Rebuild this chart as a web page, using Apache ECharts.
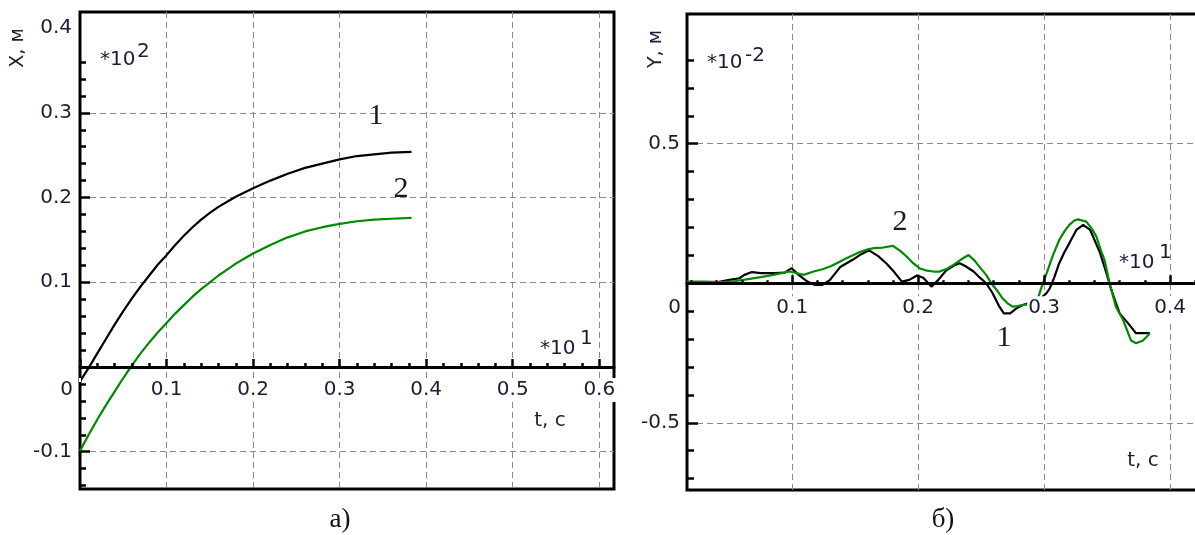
<!DOCTYPE html>
<html>
<head>
<meta charset="utf-8">
<script src="https://cdn.jsdelivr.net/npm/echarts@6.0.0/dist/echarts.min.js"></script>
<style>
  html, body { margin: 0; padding: 0; background: #fff; }
  #chart { width: 1195px; height: 535px; }
</style>
</head>
<body>
<div id="chart"></div>
<script>
// ---- а) X(t): time in units of 10 s, displacement in units of 100 m ----
const tX = [0, 0.01, 0.02, 0.03, 0.04, 0.05, 0.06, 0.07, 0.08, 0.09, 0.10, 0.11, 0.12, 0.13, 0.14,
            0.15, 0.16, 0.17, 0.18, 0.19, 0.20, 0.22, 0.24, 0.26, 0.28, 0.30, 0.32, 0.34, 0.36, 0.383];
const xCurve1 = [-0.017, -0.001, 0.016, 0.033, 0.050, 0.066, 0.081, 0.095, 0.108, 0.121, 0.132, 0.144,
                 0.155, 0.165, 0.174, 0.182, 0.189, 0.195, 0.201, 0.206, 0.211, 0.220, 0.228, 0.235,
                 0.240, 0.245, 0.249, 0.251, 0.253, 0.254];
const xCurve2 = [-0.099, -0.080, -0.062, -0.045, -0.029, -0.013, 0.002, 0.016, 0.029, 0.041, 0.052,
                 0.063, 0.073, 0.083, 0.092, 0.100, 0.108, 0.115, 0.122, 0.128, 0.134, 0.144, 0.153,
                 0.160, 0.165, 0.169, 0.172, 0.174, 0.175, 0.176];

// ---- б) Y(t): time in units of 10 s, displacement in units of 0.01 m ----
const tY1 = [0.0164, 0.03, 0.042, 0.05, 0.058, 0.062, 0.068, 0.075, 0.085, 0.094, 0.0995, 0.105, 0.112,
             0.118, 0.124, 0.130, 0.138, 0.148, 0.155, 0.161, 0.168, 0.175, 0.181, 0.187, 0.193, 0.199,
             0.204, 0.2105, 0.216, 0.222, 0.229, 0.233, 0.238, 0.244, 0.249, 0.254, 0.259, 0.264, 0.268,
             0.273, 0.278, 0.283, 0.289, 0.296, 0.302, 0.3045, 0.308, 0.312, 0.316, 0.320, 0.3256, 0.331,
             0.3366, 0.3405, 0.3445, 0.3495, 0.3534, 0.357, 0.360, 0.3666, 0.373, 0.378, 0.384];
const yCurve1 = [0.0, 0.0, 0.005, 0.012, 0.018, 0.03, 0.04, 0.036, 0.036, 0.038, 0.054, 0.03, 0.006,
                 -0.006, -0.006, 0.012, 0.058, 0.084, 0.105, 0.118, 0.098, 0.07, 0.04, 0.006, 0.012, 0.028,
                 0.02, -0.012, 0.012, 0.045, 0.065, 0.072, 0.06, 0.042, 0.02, 0.0, -0.035, -0.08, -0.108,
                 -0.108, -0.09, -0.078, -0.07, -0.06, -0.035, -0.018, 0.02, 0.072, 0.11, 0.143, 0.191, 0.209,
                 0.191, 0.15, 0.108, 0.036, -0.024, -0.07, -0.108, -0.143, -0.179, -0.179, -0.179];
const tY2 = [0.0164, 0.03, 0.045, 0.055, 0.065, 0.075, 0.085, 0.095, 0.098, 0.104, 0.109, 0.117, 0.124,
             0.130, 0.137, 0.143, 0.149, 0.154, 0.160, 0.165, 0.172, 0.180, 0.186, 0.191, 0.196, 0.201,
             0.207, 0.212, 0.217, 0.223, 0.228, 0.234, 0.240, 0.245, 0.249, 0.254, 0.258, 0.263, 0.267,
             0.271, 0.275, 0.279, 0.283, 0.289, 0.294, 0.2975, 0.302, 0.307, 0.312, 0.316, 0.320, 0.324,
             0.327, 0.3335, 0.338, 0.3415, 0.345, 0.348, 0.352, 0.357, 0.3626, 0.366, 0.369, 0.373,
             0.3785, 0.384];
const yCurve2 = [0.006, 0.006, 0.004, 0.008, 0.015, 0.022, 0.03, 0.04, 0.042, 0.036, 0.03, 0.042, 0.05,
                 0.06, 0.075, 0.09, 0.102, 0.113, 0.122, 0.126, 0.128, 0.134, 0.115, 0.095, 0.072, 0.054,
                 0.045, 0.042, 0.042, 0.052, 0.066, 0.085, 0.101, 0.08, 0.057, 0.03, 0.0, -0.028, -0.054,
                 -0.072, -0.084, -0.082, -0.078, -0.075, -0.07, -0.02, 0.036, 0.1, 0.155, 0.185, 0.209,
                 0.225, 0.229, 0.221, 0.195, 0.167, 0.12, 0.083, 0.0, -0.084, -0.13, -0.17, -0.205, -0.215,
                 -0.205, -0.18];

// ---- tick labels ----
const xLabelsA = [0.1, 0.2, 0.3, 0.4, 0.5, 0.6];
const yLabelsA = [-0.1, 0.1, 0.2, 0.3, 0.4];
const xLabelsB = [0.1, 0.2, 0.3, 0.4];
const yLabelsB = [-0.5, 0.5];
const originLabel = '0';

// ---- styles ----
const FONT = 'DejaVu Sans';
const SERIF = 'Liberation Serif';
const INK = '#1c1c36';
const DASH = { color: '#8a8a8a', width: 1, type: [6, 4] };
const TICK = { color: '#000', width: 2.5 };
const OFF = { show: false };

// Panel frames (pixels) and the value ranges they span
const panelA = {
  box: { l: 80, t: 12, r: 614, b: 489 }, xr: [0, 0.617], yr: [-0.144, 0.419],
  xMajor: [0, 0.6], xMinor: [0, 0.6], xMinorStep: 0.02, xMajorLen: 8, xMinorLen: 4, xLabels: xLabelsA, xMargin: 11,
  yMajor: [-0.2, 0.3], yStep: 0.1, yMinor: [-0.14, 0.36], yMinorStep: 0.02, yMajorLen: 10, yMinorLen: 6,
  yLab: [-0.1, 0.4], yLabels: yLabelsA, yMargin: 8
};
const panelB = {
  box: { l: 687, t: 14, r: 1200, b: 490 }, xr: [0.0164, 0.4238], yr: [-0.741, 0.965],
  xMajor: [0.1, 0.4], xMinor: [0.02, 0.42], xMinorStep: 0.02, xMajorLen: 8, xMinorLen: 3, xLabels: xLabelsB, xMargin: 13,
  yMajor: [-1.0, 0.5], yStep: 0.5, yMinor: [-0.7, 0.8], yMinorStep: 0.1, yMajorLen: 11, yMinorLen: 7,
  yLab: [-0.5, 0.5], yLabels: yLabelsB, yMargin: 7
};

const option = {
  animation: false,
  backgroundColor: '#fff',
  textStyle: { fontFamily: FONT },
  grid: [], xAxis: [], yAxis: [], series: [],
  graphic: { elements: [] }
};

function rectOf(p, x0, x1, y0, y1) {
  const sx = (p.box.r - p.box.l) / (p.xr[1] - p.xr[0]);
  const sy = (p.box.b - p.box.t) / (p.yr[1] - p.yr[0]);
  const left = p.box.l + (x0 - p.xr[0]) * sx;
  const right = p.box.l + (x1 - p.xr[0]) * sx;
  const top = p.box.b - (y1 - p.yr[0]) * sy;
  const bottom = p.box.b - (y0 - p.yr[0]) * sy;
  return { left: left, top: top, width: right - left, height: bottom - top };
}
function addGrid(rect, extra) {
  option.grid.push(Object.assign({
    left: rect.left, top: rect.top, width: rect.width, height: rect.height,
    containLabel: false, outerBoundsMode: 'none', show: false
  }, extra || {}));
  return option.grid.length - 1;
}
function axisBase() {
  return {
    type: 'value', axisLine: { show: false, onZero: false }, axisTick: OFF, minorTick: OFF,
    axisLabel: OFF, splitLine: OFF, minorSplitLine: OFF, splitArea: OFF
  };
}
function pushX(cfg) { option.xAxis.push(Object.assign(axisBase(), { position: 'bottom' }, cfg)); return option.xAxis.length - 1; }
function pushY(cfg) { option.yAxis.push(Object.assign(axisBase(), { position: 'left' }, cfg)); return option.yAxis.length - 1; }
const labelFmt = list => v => {
  const r = Math.round(v * 1000) / 1000;
  return list.indexOf(r) >= 0 ? String(r) : '';
};
const labelStyle = { show: true, fontFamily: FONT, fontSize: 20, color: INK };

function buildPanel(p, curves) {
  // frame and the curves
  const gm = addGrid(rectOf(p, p.xr[0], p.xr[1], p.yr[0], p.yr[1]),
    { show: true, borderColor: '#000', borderWidth: 3, backgroundColor: 'transparent' });
  const xm = pushX({ gridIndex: gm, min: p.xr[0], max: p.xr[1] });
  const ym = pushY({ gridIndex: gm, min: p.yr[0], max: p.yr[1] });
  curves.forEach(c => {
    option.series.push({
      type: 'line', xAxisIndex: xm, yAxisIndex: ym, showSymbol: false, symbol: 'none',
      data: c.t.map((t, i) => [t, c.v[i]]),
      lineStyle: { color: c.color, width: 2.2 }, z: 2
    });
  });

  // the time axis runs along the zero line: its grids end at value 0
  const gz = addGrid(rectOf(p, p.xr[0], p.xr[1], 0, p.yr[1]));
  pushY({ gridIndex: gz, min: 0, max: p.yr[1] });
  pushX({ gridIndex: gz, min: p.xr[0], max: p.xr[1], z: 3,
    axisLine: { show: true, onZero: false, lineStyle: { color: '#000', width: 3 } } });

  // vertical dashed grid lines (beneath the curves)
  const gs = addGrid(rectOf(p, p.xMajor[0], p.xMajor[1], p.yr[0], p.yr[1]));
  pushY({ gridIndex: gs, min: p.yr[0], max: p.yr[1] });
  pushX({ gridIndex: gs, min: p.xMajor[0], max: p.xMajor[1], interval: 0.1, z: 0,
    splitLine: { show: true, showMinLine: p.xMajor[0] > p.xr[0], showMaxLine: true, lineStyle: DASH } });

  // major time ticks and their labels
  const gx = addGrid(rectOf(p, p.xMajor[0], p.xMajor[1], 0, p.yr[1]));
  pushY({ gridIndex: gx, min: 0, max: p.yr[1] });
  pushX({ gridIndex: gx, min: p.xMajor[0], max: p.xMajor[1], interval: 0.1, z: 3,
    axisTick: { show: true, inside: true, length: p.xMajorLen, lineStyle: TICK },
    axisLabel: Object.assign({}, labelStyle, { margin: p.xMargin, formatter: labelFmt(p.xLabels),
      backgroundColor: '#fff', padding: [2, 1] }) });

  // minor time ticks
  const gxm = addGrid(rectOf(p, p.xMinor[0], p.xMinor[1], 0, p.yr[1]));
  pushY({ gridIndex: gxm, min: 0, max: p.yr[1] });
  pushX({ gridIndex: gxm, min: p.xMinor[0], max: p.xMinor[1], interval: p.xMinorStep, z: 3,
    axisTick: { show: true, inside: true, length: p.xMinorLen, lineStyle: TICK } });

  // horizontal grid lines and major value ticks
  const gy = addGrid(rectOf(p, p.xr[0], p.xr[1], p.yMajor[0], p.yMajor[1]));
  pushX({ gridIndex: gy, min: p.xr[0], max: p.xr[1] });
  pushY({ gridIndex: gy, min: p.yMajor[0], max: p.yMajor[1], interval: p.yStep, z: 1,
    axisTick: { show: true, inside: true, length: p.yMajorLen, lineStyle: TICK },
    splitLine: { show: true, showMinLine: false, showMaxLine: true, lineStyle: DASH } });

  // minor value ticks
  const gym = addGrid(rectOf(p, p.xr[0], p.xr[1], p.yMinor[0], p.yMinor[1]));
  pushX({ gridIndex: gym, min: p.xr[0], max: p.xr[1] });
  pushY({ gridIndex: gym, min: p.yMinor[0], max: p.yMinor[1], interval: p.yMinorStep, z: 1,
    axisTick: { show: true, inside: true, length: p.yMinorLen, lineStyle: TICK } });

  // value labels
  const gyl = addGrid(rectOf(p, p.xr[0], p.xr[1], p.yLab[0], p.yLab[1]));
  pushX({ gridIndex: gyl, min: p.xr[0], max: p.xr[1] });
  pushY({ gridIndex: gyl, min: p.yLab[0], max: p.yLab[1], interval: p.yStep,
    axisLabel: Object.assign({}, labelStyle, { margin: p.yMargin, formatter: labelFmt(p.yLabels) }) });
}

buildPanel(panelA, [
  { t: tX, v: xCurve1, color: '#000000' },
  { t: tX, v: xCurve2, color: '#008a00' }
]);
buildPanel(panelB, [
  { t: tY1, v: yCurve1, color: '#000000' },
  { t: tY2, v: yCurve2, color: '#008a00' }
]);

// ---- captions, units and curve numbers ----
function txt(text, x, y, opts) {
  const o = opts || {};
  option.graphic.elements.push({
    type: 'text', x: x, y: y, rotation: o.rot || 0, z: 10,
    style: {
      text: text, fontFamily: o.font || FONT, fontSize: o.size || 20, fill: o.color || INK,
      align: o.align || 'center', verticalAlign: 'middle'
    }
  });
}
const NUM = { font: SERIF, size: 30, color: '#1a1a1a' };
// а)
txt('X, м', 18, 48, { rot: Math.PI / 2, size: 19 });
txt('*10', 100, 60, { align: 'left' });
txt('2', 137, 52, { align: 'left' });
txt('*10', 540, 349, { align: 'left' });
txt('1', 580, 339, { align: 'left' });
txt('t, с', 550, 421);
txt(originLabel, 73, 390, { align: 'right' });
txt('1', 376, 116, NUM);
txt('2', 401, 189, NUM);
txt('а)', 340, 520, { font: SERIF, size: 27, color: '#111' });
// б)
txt('Y, м', 656, 49, { rot: Math.PI / 2, size: 19 });
txt('*10', 707, 63, { align: 'left' });
txt('-2', 745, 56, { align: 'left' });
txt('*10', 1119, 263, { align: 'left' });
txt('1', 1159, 253, { align: 'left' });
txt('t, с', 1143, 461);
txt(originLabel, 681, 308, { align: 'right' });
txt('2', 900, 222, NUM);
txt('1', 1004, 338, NUM);
txt('б)', 943, 520, { font: SERIF, size: 27, color: '#111' });

const chart = echarts.init(document.getElementById('chart'), null, { renderer: 'canvas' });
chart.setOption(option);
</script>
</body>
</html>
